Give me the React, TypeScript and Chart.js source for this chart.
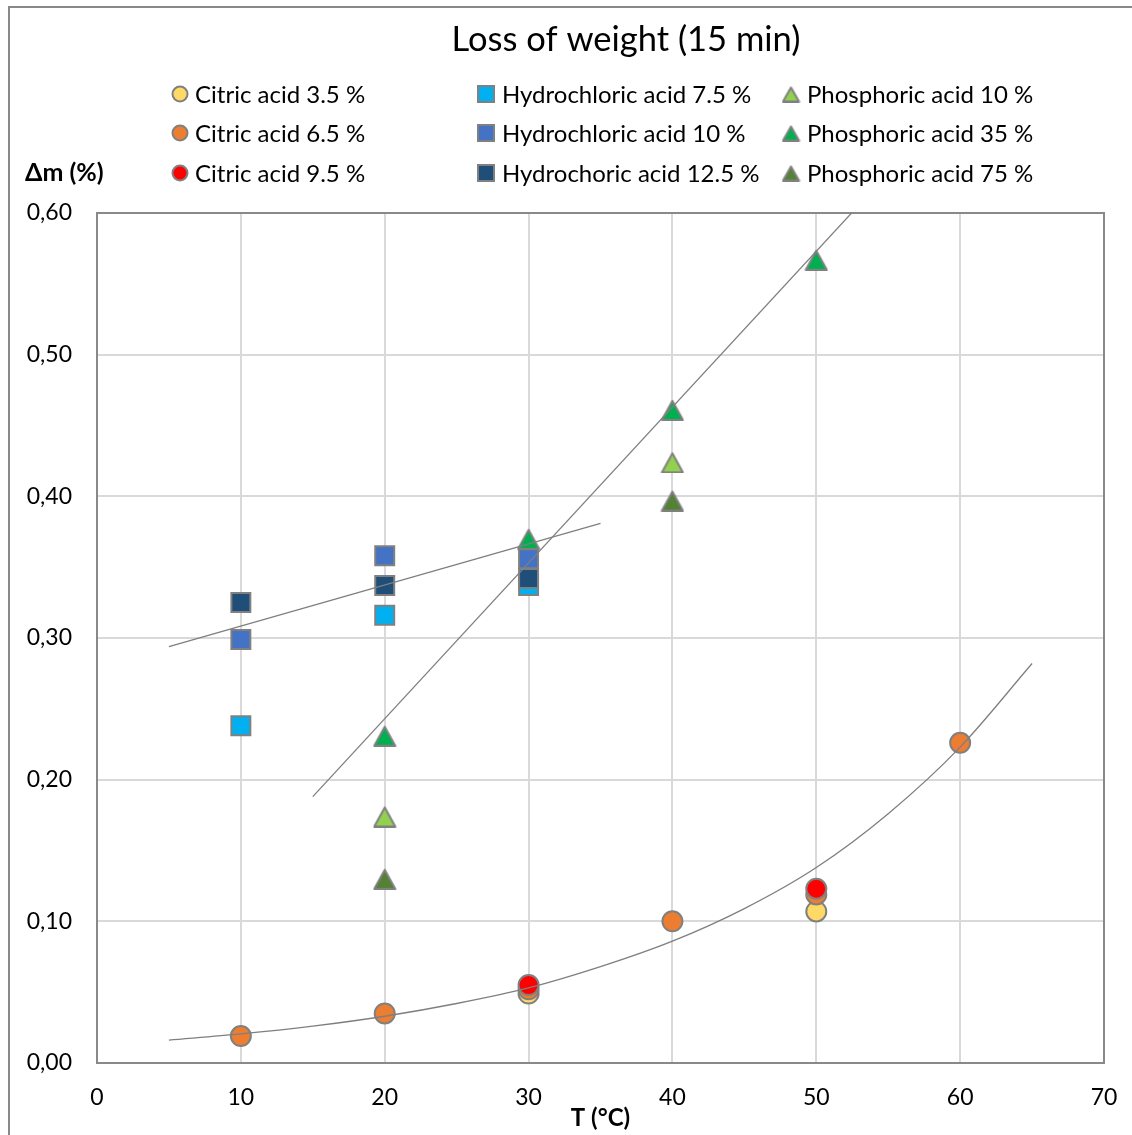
import { useEffect, useRef } from 'react';
import { Chart, registerables } from 'chart.js';

Chart.register(...registerables);

const FONT = 'Lato, "Open Sans", sans-serif';

const chartTitle = 'Loss of weight (15 min)';
const xAxisTitle = 'T (°C)';
const yAxisTitle = 'Δm (%)';
const xTickValues = [0, 10, 20, 30, 40, 50, 60, 70];
const yTickLabels = ['0,00', '0,10', '0,20', '0,30', '0,40', '0,50', '0,60'];

const seriesNames = [
  'Citric acid 3.5 %',
  'Citric acid 6.5 %',
  'Citric acid 9.5 %',
  'Hydrochloric acid 7.5 %',
  'Hydrochloric acid 10 %',
  'Hydrochoric acid 12.5 %',
  'Phosphoric acid 10 %',
  'Phosphoric acid 35 %',
  'Phosphoric acid 75 %',
];
const seriesColors = ['#FFD966', '#ED7D31', '#FF0000', '#00B0F0', '#4472C4', '#1F4E79', '#92D050', '#00B050', '#548235'];
const seriesShapes = ['circle', 'circle', 'circle', 'rect', 'rect', 'rect', 'triangle', 'triangle', 'triangle'];

// temperatures (°C) and loss of weight (%) for each series
const citric35T = [30, 50];
const citric35V = [0.049, 0.107];
const citric65T = [10, 20, 30, 40, 50, 60];
const citric65V = [0.019, 0.035, 0.052, 0.1, 0.119, 0.226];
const citric95T = [30, 50];
const citric95V = [0.055, 0.123];
const hcl75T = [10, 20, 30];
const hcl75V = [0.238, 0.316, 0.337];
const hcl10T = [10, 20, 30];
const hcl10V = [0.299, 0.358, 0.356];
const hcl125T = [10, 20, 30];
const hcl125V = [0.325, 0.337, 0.342];
const phos10T = [20, 40];
const phos10V = [0.174, 0.424];
const phos35T = [20, 30, 40, 50];
const phos35V = [0.231, 0.37, 0.461, 0.567];
const phos75T = [20, 40];
const phos75V = [0.13, 0.397];

// trendlines
const hclTrendT = [5, 35];
const hclTrendV = [0.294, 0.381];
const phosTrendT = [15, 55];
const phosTrendV = [0.188, 0.628];
const citricTrendT = [5, 10, 15, 20, 25, 30, 35, 40, 45, 50, 55, 60, 65];
const citricTrendV = [0.0162, 0.0205, 0.026, 0.033, 0.042, 0.053, 0.068, 0.086, 0.109, 0.138, 0.176, 0.223, 0.282];

const seriesT = [citric35T, citric65T, citric95T, hcl75T, hcl10T, hcl125T, phos10T, phos35T, phos75T];
const seriesV = [citric35V, citric65V, citric95V, hcl75V, hcl10V, hcl125V, phos10V, phos35V, phos75V];

const pts = (t: number[], v: number[]) => t.map((x, i) => ({ x, y: v[i] }));

const BORDER = '#808080';

function makeTriangle(fill: string, w: number, h: number) {
  const c = document.createElement('canvas');
  c.width = w;
  c.height = h;
  const g = c.getContext('2d')!;
  const lw = 2;
  g.beginPath();
  g.moveTo(w / 2, lw);
  g.lineTo(w - lw / 2 - 0.5, h - lw / 2);
  g.lineTo(lw / 2 + 0.5, h - lw / 2);
  g.closePath();
  g.fillStyle = fill;
  g.fill();
  g.strokeStyle = BORDER;
  g.lineWidth = lw;
  g.lineJoin = 'round';
  g.stroke();
  return c;
}

export default function App() {
  const ref = useRef<HTMLCanvasElement | null>(null);

  useEffect(() => {
    if (!ref.current) return;
    const triBig = seriesColors.map((c) => makeTriangle(c, 24, 22));
    const triSmall = seriesColors.map((c) => makeTriangle(c, 19, 17));

    const markerDatasets = seriesNames.map((name, i) => {
      const shape = seriesShapes[i];
      return {
        label: name,
        data: pts(seriesT[i], seriesV[i]),
        backgroundColor: seriesColors[i],
        borderColor: BORDER,
        borderWidth: 2,
        pointStyle: shape === 'triangle' ? triBig[i] : shape,
        pointRadius: shape === 'circle' ? 10 : shape === 'rect' ? 13.4 : 12,
        order: 30 - i,
      } as any;
    });

    const trend = (t: number[], v: number[], smooth: boolean) =>
      ({
        label: '',
        data: pts(t, v),
        showLine: true,
        borderColor: '#7f7f7f',
        borderWidth: 1.3,
        pointRadius: 0,
        fill: false,
        cubicInterpolationMode: smooth ? 'monotone' : 'default',
        order: 0,
      } as any);

    const decor = {
      id: 'decor',
      beforeDatasetsDraw(chart: any) {
        const { ctx, chartArea: ca } = chart;
        ctx.save();
        ctx.strokeStyle = '#898989';
        ctx.lineWidth = 2;
        ctx.beginPath();
        ctx.moveTo(ca.left, ca.top);
        ctx.lineTo(ca.right, ca.top);
        ctx.lineTo(ca.right, ca.bottom);
        ctx.stroke();
        ctx.restore();
      },
      afterDraw(chart: any) {
        const { ctx, chartArea: ca } = chart;
        ctx.save();
        ctx.fillStyle = '#000';
        ctx.textBaseline = 'middle';
        ctx.textAlign = 'center';
        ctx.font = `34.5px ${FONT}`;
        ctx.fillText(chartTitle, 616, 32);

        ctx.font = `bold 25px ${FONT}`;
        ctx.textAlign = 'left';
        ctx.fillText(yAxisTitle, 15, 165);
        ctx.font = `bold 24px ${FONT}`;
        ctx.textAlign = 'center';
        ctx.fillText(xAxisTitle, (ca.left + ca.right) / 2, 1110);

        // legend, three columns
        const colMarker = [170, 476, 781];
        const colText = [185, 492, 797];
        const rowY = [86, 125, 165];
        ctx.font = `24px ${FONT}`;
        ctx.textAlign = 'left';
        seriesNames.forEach((name, i) => {
          const col = Math.floor(i / 3);
          const row = i % 3;
          const mx = colMarker[col];
          const my = rowY[row];
          const shape = seriesShapes[i];
          ctx.fillStyle = seriesColors[i];
          ctx.strokeStyle = BORDER;
          ctx.lineWidth = 2;
          if (shape === 'circle') {
            ctx.beginPath();
            ctx.arc(mx, my, 7.5, 0, Math.PI * 2);
            ctx.fill();
            ctx.stroke();
          } else if (shape === 'rect') {
            ctx.fillRect(mx - 8, my - 8, 16, 16);
            ctx.strokeRect(mx - 8, my - 8, 16, 16);
          } else {
            const img = triSmall[i];
            ctx.drawImage(img, mx - img.width / 2, my - img.height / 2);
          }
          ctx.fillStyle = '#000';
          ctx.fillText(name, colText[col], my + 1);
        });
        ctx.restore();
      },
    };

    const chart = new Chart(ref.current, {
      type: 'scatter',
      data: {
        datasets: [
          ...markerDatasets,
          trend(hclTrendT, hclTrendV, false),
          trend(phosTrendT, phosTrendV, false),
          trend(citricTrendT, citricTrendV, true),
        ],
      },
      options: {
        animation: false,
        responsive: false,
        maintainAspectRatio: false,
        layout: { padding: { top: 205, right: 28, left: 0, bottom: 0 } },
        plugins: {
          legend: { display: false },
          title: { display: false },
          tooltip: { enabled: false },
        },
        scales: {
          x: {
            type: 'linear',
            min: 0,
            max: 70,
            afterFit: (s: any) => {
              s.height = 72;
              s.paddingLeft = 0;
              s.paddingRight = 0;
            },
            afterBuildTicks: (s: any) => {
              s.ticks = xTickValues.map((v) => ({ value: v }));
            },
            ticks: {
              padding: 21,
              color: '#000',
              font: { family: FONT, size: 23 },
              callback: (v: any) => String(v),
            },
            grid: { color: '#d9d9d9', lineWidth: 2, drawTicks: false },
            border: { color: '#898989', width: 2 },
          },
          y: {
            type: 'linear',
            min: 0,
            max: 0.6,
            afterFit: (s: any) => {
              s.width = 87;
              s.paddingTop = 0;
              s.paddingBottom = 0;
            },
            afterBuildTicks: (s: any) => {
              s.ticks = yTickLabels.map((_, i) => ({ value: i / 10 }));
            },
            ticks: {
              padding: 25,
              color: '#000',
              font: { family: FONT, size: 23 },
              callback: (_v: any, i: number) => yTickLabels[i],
            },
            grid: { color: '#d9d9d9', lineWidth: 2, drawTicks: false },
            border: { color: '#898989', width: 2 },
          },
        },
      },
      plugins: [decor],
    });
    return () => chart.destroy();
  }, []);

  return (
    <div
      style={{
        position: 'absolute',
        left: 8,
        top: 6,
        width: 1122,
        height: 1127,
        borderLeft: '2px solid #898989',
        borderTop: '2px solid #898989',
        background: '#fff',
      }}
    >
      <canvas ref={ref} width={1122} height={1127} style={{ display: 'block', width: 1122, height: 1127 }} />
    </div>
  );
}
